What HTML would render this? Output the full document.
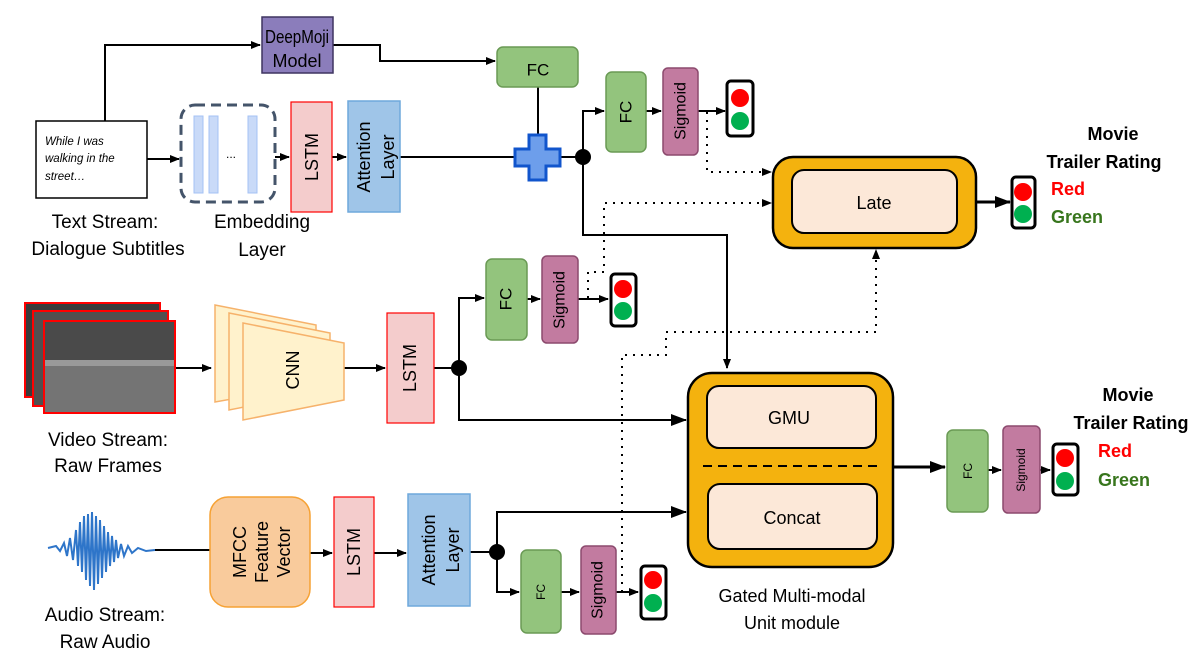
<!DOCTYPE html>
<html><head><meta charset="utf-8"><style>
html,body{margin:0;padding:0;background:#fff;}
svg{display:block;font-family:"Liberation Sans",sans-serif;}
</style></head><body>
<svg width="1204" height="656" viewBox="0 0 1204 656" xmlns="http://www.w3.org/2000/svg">
<defs>
<marker id="a" markerWidth="10" markerHeight="8" refX="9" refY="4" orient="auto" markerUnits="userSpaceOnUse"><path d="M0,0 L10,4 L0,8 z" fill="#000"/></marker>
<marker id="b" markerWidth="16" markerHeight="12" refX="15" refY="6" orient="auto" markerUnits="userSpaceOnUse"><path d="M0,0 L16,6 L0,12 z" fill="#000"/></marker>
</defs>
<g stroke="#000" stroke-width="2" fill="none">
<polyline points="105,121 105,45 260,45" marker-end="url(#a)"/>
<polyline points="333,45 380,45 380,61 495,61" marker-end="url(#a)"/>
<line x1="147" y1="159" x2="179" y2="159" marker-end="url(#a)"/>
<line x1="275" y1="157" x2="289" y2="157" marker-end="url(#a)"/>
<line x1="332" y1="157" x2="346" y2="157" marker-end="url(#a)"/>
<line x1="400" y1="157" x2="583" y2="157"/>
<line x1="538" y1="87" x2="538" y2="140"/>
<polyline points="583,157 583,111 604,111" marker-end="url(#a)"/>
<line x1="646" y1="111" x2="661" y2="111" marker-end="url(#a)"/>
<line x1="698" y1="111" x2="725" y2="111" marker-end="url(#a)"/>
<polyline points="583,157 583,235 727,235 727,368" marker-end="url(#a)"/>
<line x1="175" y1="368" x2="211" y2="368" marker-end="url(#a)"/>
<line x1="344" y1="368" x2="385" y2="368" marker-end="url(#a)"/>
<line x1="434" y1="368" x2="459" y2="368"/>
<polyline points="459,368 459,298 484,298" marker-end="url(#a)"/>
<line x1="527" y1="299" x2="540" y2="299" marker-end="url(#a)"/>
<line x1="578" y1="299" x2="608" y2="299" marker-end="url(#a)"/>
<polyline points="459,368 459,420 686,420" marker-end="url(#b)"/>
<line x1="155" y1="550" x2="210" y2="550"/>
<line x1="310" y1="553" x2="332" y2="553" marker-end="url(#a)"/>
<line x1="374" y1="553" x2="406" y2="553" marker-end="url(#a)"/>
<line x1="470" y1="552" x2="497" y2="552"/>
<polyline points="497,552 497,512 686,512" marker-end="url(#b)"/>
<polyline points="497,552 497,592 519,592" marker-end="url(#a)"/>
<line x1="561" y1="592" x2="579" y2="592" marker-end="url(#a)"/>
<line x1="616" y1="592" x2="638" y2="592" marker-end="url(#a)"/>
<line x1="976" y1="202" x2="1010" y2="202" stroke-width="3" marker-end="url(#b)"/>
<line x1="893" y1="467" x2="945" y2="467" stroke-width="3" marker-end="url(#b)"/>
<line x1="988" y1="470" x2="1001" y2="470" marker-end="url(#a)"/>
<line x1="1040" y1="470" x2="1050" y2="470" marker-end="url(#a)"/>
</g>
<g stroke="#000" stroke-width="2" fill="none" stroke-dasharray="2,6">
<polyline points="707,112 707,172 771,172" marker-end="url(#a)"/>
<polyline points="588,298 588,272 604,272 604,203 771,203" marker-end="url(#a)"/>
<polyline points="622,592 622,355 666,355 666,332 876,332 876,250" marker-end="url(#a)"/>
</g>
<rect x="262" y="17" width="71" height="56" fill="#8b7dbb" stroke="#3f3560" stroke-width="1.5"/>
<text x="297" y="37" font-size="18" text-anchor="middle" dominant-baseline="central" textLength="64" lengthAdjust="spacingAndGlyphs">DeepMoji</text>
<text x="297" y="61" font-size="18" text-anchor="middle" dominant-baseline="central">Model</text>
<rect x="497" y="47" width="81" height="40" rx="6" fill="#93c47d" stroke="#6a9a55" stroke-width="1.5"/>
<text x="538" y="70" font-size="17" text-anchor="middle" dominant-baseline="central">FC</text>
<rect x="36" y="121" width="111" height="77" fill="#fff" stroke="#000" stroke-width="1.5"/>
<text font-size="11.5" font-style="italic"><tspan x="45" y="145">While I was</tspan><tspan x="45" y="162">walking in the</tspan><tspan x="45" y="180">street…</tspan></text>
<text x="105" y="228" font-size="19" text-anchor="middle">Text Stream:</text>
<text x="108" y="255" font-size="19" text-anchor="middle">Dialogue Subtitles</text>
<rect x="181" y="105" width="94" height="97" rx="14" fill="#fff" stroke="#44546a" stroke-width="3" stroke-dasharray="10,6"/>
<rect x="194" y="116" width="9" height="77" fill="#c9daf8" stroke="#a4c2f4"/>
<rect x="209" y="116" width="9" height="77" fill="#c9daf8" stroke="#a4c2f4"/>
<rect x="248" y="116" width="9" height="77" fill="#c9daf8" stroke="#a4c2f4"/>
<text x="231" y="158" font-size="12" text-anchor="middle">...</text>
<text x="262" y="228" font-size="19" text-anchor="middle">Embedding</text>
<text x="262" y="256" font-size="19" text-anchor="middle">Layer</text>
<rect x="291" y="102" width="41" height="110" fill="#f4cccc" stroke="#f00" stroke-width="1.2"/>
<text transform="translate(312,157) rotate(-90)" font-size="18" text-anchor="middle" dominant-baseline="central">LSTM</text>
<rect x="348" y="101" width="52" height="111" fill="#9fc5e8" stroke="#6fa8dc" stroke-width="1.5"/>
<text transform="translate(374,157) rotate(-90)" font-size="18" text-anchor="middle"><tspan x="0" y="-4">Attention</tspan><tspan x="0" y="20">Layer</tspan></text>
<path d="M529,135 h17 v14 h14 v17 h-14 v14 h-17 v-14 h-14 v-17 h14 z" fill="#6d9eeb" stroke="#1155cc" stroke-width="3"/>
<circle cx="583" cy="157" r="8" fill="#000"/>
<rect x="606" y="72" width="40" height="80" rx="6" fill="#93c47d" stroke="#6a9a55" stroke-width="1.5"/>
<text transform="translate(626,112) rotate(-90)" font-size="17" text-anchor="middle" dominant-baseline="central">FC</text>
<rect x="663" y="68" width="35" height="87" rx="5" fill="#c27ba0" stroke="#8c4a6e" stroke-width="1.5"/>
<text transform="translate(681,111) rotate(-90)" font-size="16" text-anchor="middle" dominant-baseline="central">Sigmoid</text>
<g stroke="#000" stroke-width="3">
<rect x="727" y="81" width="26" height="55" rx="4" fill="#fff"/>
<rect x="611" y="274" width="25" height="52" rx="4" fill="#fff"/>
<rect x="641" y="566" width="25" height="53" rx="4" fill="#fff"/>
<rect x="1012" y="177" width="23" height="51" rx="4" fill="#fff"/>
<rect x="1053" y="444" width="25" height="51" rx="4" fill="#fff"/>
</g>
<g stroke="none">
<circle cx="740" cy="98" r="9" fill="#f00"/><circle cx="740" cy="121" r="9" fill="#00b050"/>
<circle cx="623" cy="289" r="9" fill="#f00"/><circle cx="623" cy="311" r="9" fill="#00b050"/>
<circle cx="653" cy="580" r="9" fill="#f00"/><circle cx="653" cy="603" r="9" fill="#00b050"/>
<circle cx="1023" cy="192" r="9" fill="#f00"/><circle cx="1023" cy="214" r="9" fill="#00b050"/>
<circle cx="1065" cy="458" r="9" fill="#f00"/><circle cx="1065" cy="481" r="9" fill="#00b050"/>
</g>
<rect x="773" y="157" width="203" height="91" rx="20" fill="#f4b20e" stroke="#000" stroke-width="2.5"/>
<rect x="792" y="170" width="165" height="63" rx="12" fill="#fce8d8" stroke="#000" stroke-width="2"/>
<text x="874" y="203" font-size="18" text-anchor="middle" dominant-baseline="central">Late</text>
<g font-weight="bold" font-size="18" text-anchor="middle">
<text x="1113" y="140">Movie</text>
<text x="1104" y="168">Trailer Rating</text>
<text x="1128" y="401">Movie</text>
<text x="1131" y="429">Trailer Rating</text>
</g>
<g font-weight="bold" font-size="18">
<text x="1051" y="195" fill="#f00">Red</text>
<text x="1051" y="223" fill="#38761d">Green</text>
<text x="1098" y="457" fill="#f00">Red</text>
<text x="1098" y="486" fill="#38761d">Green</text>
</g>
<g stroke="#f00" stroke-width="2">
<rect x="25" y="303" width="135" height="94" fill="#3a3a3a"/>
<rect x="33" y="311" width="135" height="95" fill="#505050"/>
<rect x="44" y="321" width="131" height="92" fill="#6a6a6a"/>
</g>
<rect x="45" y="322" width="129" height="38" fill="#4a4a4a"/>
<rect x="45" y="360" width="129" height="6" fill="#999"/>
<rect x="45" y="366" width="129" height="46" fill="#747474"/>
<text x="108" y="446" font-size="19" text-anchor="middle">Video Stream:</text>
<text x="108" y="472" font-size="19" text-anchor="middle">Raw Frames</text>
<g fill="#fff2cc" stroke="#f6b26b" stroke-width="1.5">
<polygon points="215,305 316,325 316,384 215,402"/>
<polygon points="229,313 330,333 330,390 229,410"/>
<polygon points="243,323 344,343 344,400 243,420"/>
</g>
<text transform="translate(293,370) rotate(-90)" font-size="18" text-anchor="middle" dominant-baseline="central">CNN</text>
<rect x="387" y="313" width="47" height="110" fill="#f4cccc" stroke="#f00" stroke-width="1.2"/>
<text transform="translate(410,368) rotate(-90)" font-size="18" text-anchor="middle" dominant-baseline="central">LSTM</text>
<circle cx="459" cy="368" r="8" fill="#000"/>
<rect x="486" y="259" width="41" height="81" rx="6" fill="#93c47d" stroke="#6a9a55" stroke-width="1.5"/>
<text transform="translate(506,299) rotate(-90)" font-size="17" text-anchor="middle" dominant-baseline="central">FC</text>
<rect x="542" y="256" width="36" height="87" rx="5" fill="#c27ba0" stroke="#8c4a6e" stroke-width="1.5"/>
<text transform="translate(560,300) rotate(-90)" font-size="16" text-anchor="middle" dominant-baseline="central">Sigmoid</text>
<rect x="688" y="373" width="205" height="194" rx="24" fill="#f4b20e" stroke="#000" stroke-width="2.5"/>
<rect x="707" y="386" width="169" height="62" rx="12" fill="#fce8d8" stroke="#000" stroke-width="2"/>
<text x="789" y="418" font-size="18" text-anchor="middle" dominant-baseline="central">GMU</text>
<line x1="703" y1="466" x2="878" y2="466" stroke="#000" stroke-width="2" stroke-dasharray="9,6"/>
<rect x="708" y="484" width="169" height="65" rx="12" fill="#fce8d8" stroke="#000" stroke-width="2"/>
<text x="792" y="518" font-size="18" text-anchor="middle" dominant-baseline="central">Concat</text>
<text x="792" y="602" font-size="18" text-anchor="middle">Gated Multi-modal</text>
<text x="792" y="629" font-size="18" text-anchor="middle">Unit module</text>
<rect x="947" y="430" width="41" height="82" rx="6" fill="#93c47d" stroke="#6a9a55" stroke-width="1.5"/>
<text transform="translate(968,471) rotate(-90)" font-size="12" text-anchor="middle" dominant-baseline="central">FC</text>
<rect x="1003" y="426" width="37" height="87" rx="5" fill="#c27ba0" stroke="#8c4a6e" stroke-width="1.5"/>
<text transform="translate(1021,470) rotate(-90)" font-size="12" text-anchor="middle" dominant-baseline="central">Sigmoid</text>
<path d="M48,548 L56,546 L60,551 L64,543 L67,556 L70,538 L73,560 L76,530 L78,566 L80,522 L82,572 L84,516 L86,580 L88,514 L90,586 L92,512 L94,590 L96,516 L98,584 L100,520 L102,578 L104,526 L106,572 L108,532 L110,566 L112,536 L114,562 L116,540 L118,558 L121,544 L124,556 L128,546 L132,553 L138,548 L146,551 L155,550" fill="none" stroke="#2e75c9" stroke-width="2"/>
<text x="105" y="621" font-size="19" text-anchor="middle">Audio Stream:</text>
<text x="105" y="648" font-size="19" text-anchor="middle">Raw Audio</text>
<rect x="210" y="497" width="100" height="110" rx="18" fill="#f9cb9c" stroke="#f6a235" stroke-width="1.5"/>
<text transform="translate(260,552) rotate(-90)" font-size="18" text-anchor="middle"><tspan x="0" y="-14">MFCC</tspan><tspan x="0" y="8">Feature</tspan><tspan x="0" y="30">Vector</tspan></text>
<rect x="334" y="497" width="40" height="110" fill="#f4cccc" stroke="#f00" stroke-width="1.2"/>
<text transform="translate(354,552) rotate(-90)" font-size="18" text-anchor="middle" dominant-baseline="central">LSTM</text>
<rect x="408" y="494" width="62" height="112" fill="#9fc5e8" stroke="#6fa8dc" stroke-width="1.5"/>
<text transform="translate(439,550) rotate(-90)" font-size="18" text-anchor="middle"><tspan x="0" y="-4">Attention</tspan><tspan x="0" y="20">Layer</tspan></text>
<circle cx="497" cy="552" r="8" fill="#000"/>
<rect x="521" y="550" width="40" height="83" rx="6" fill="#93c47d" stroke="#6a9a55" stroke-width="1.5"/>
<text transform="translate(541,592) rotate(-90)" font-size="12" text-anchor="middle" dominant-baseline="central">FC</text>
<rect x="581" y="546" width="35" height="88" rx="5" fill="#c27ba0" stroke="#8c4a6e" stroke-width="1.5"/>
<text transform="translate(598,590) rotate(-90)" font-size="16" text-anchor="middle" dominant-baseline="central">Sigmoid</text>
</svg>
</body></html>
